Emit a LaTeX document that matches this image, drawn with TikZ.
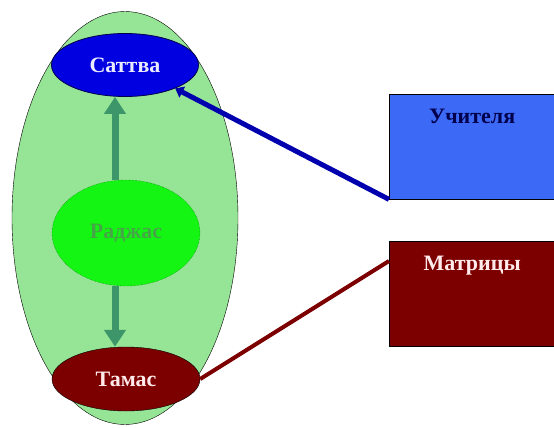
\documentclass[tikz,border=0pt]{standalone}
\usepackage{fontspec}
\setmainfont{Liberation Serif}
\usetikzlibrary{positioning, shapes.geometric, arrows.meta}

\definecolor{gunagreen}{RGB}{150,228,150}
\definecolor{rajasgreen}{RGB}{20,245,20}
\definecolor{rajastext}{RGB}{70,165,70}
\definecolor{sattvablue}{RGB}{0,0,225}
\definecolor{tamasred}{RGB}{125,0,0}
\definecolor{teacherblue}{RGB}{60,105,245}
\definecolor{flowgreen}{RGB}{60,150,105}
\definecolor{linkblue}{RGB}{0,0,175}

\tikzset{
    guna/.style={ellipse, inner sep=0pt, font=\bfseries\fontsize{22}{26}\selectfont},
    infobox/.style={rectangle, draw=black, inner sep=0pt, minimum width=166pt,
        minimum height=105pt, anchor=north west},
    boxlabel/.style={anchor=north, font=\bfseries\fontsize{22}{26}\selectfont},
    flow/.style={flowgreen, line width=7pt, -{Triangle[width=21pt,length=17pt]}}
}

\begin{document}
\begin{tikzpicture}[x=1pt,y=-1pt]
    \useasboundingbox (0,0) rectangle (554,428);
    % outer ellipse
    \node[ellipse, draw=black, fill=gunagreen, minimum width=226pt, minimum height=413pt] (gunas) at (125,218) {};
    % the three gunas
    \node[guna, draw=black!70!blue, thick, fill=sattvablue, text=blue!8, minimum width=147pt, minimum height=63pt] (sattva) at (125,65) {Саттва};
    \node[guna, draw=black!60!green, densely dotted, fill=rajasgreen, text=rajastext, minimum width=148pt, minimum height=106pt] (rajas) at (126,233) {Раджас};
    \node[guna, draw=black, fill=tamasred, text=red!8, minimum width=148pt, minimum height=64pt] (tamas) at (126,379) {Тамас};
    \draw[flow] (rajas.north -| 115,0) -- (sattva.south -| 115,0);
    \draw[flow] (rajas.south -| 115,0) -- (tamas.north -| 115,0);
    % boxes on the right
    \node[infobox, fill=teacherblue] (teachers) at (389,94) {};
    \node[boxlabel, text=black!70!blue] (teacherslabel) at ([yshift=-12pt]teachers.north) {Учителя};
    \node[infobox, fill=tamasred] (matrices) at (389,241) {};
    \node[boxlabel, text=red!8] (matriceslabel) at ([yshift=-12pt]matrices.north) {Матрицы};
    % links
    \draw[linkblue, line width=5pt, -{Triangle[width=12pt,length=8pt]}] (teachers.south west) -- (sattva.-25);
    \draw[tamasred, line width=4pt] ([yshift=-20pt]matrices.north west) -- (tamas.east);
\end{tikzpicture}
\end{document}
